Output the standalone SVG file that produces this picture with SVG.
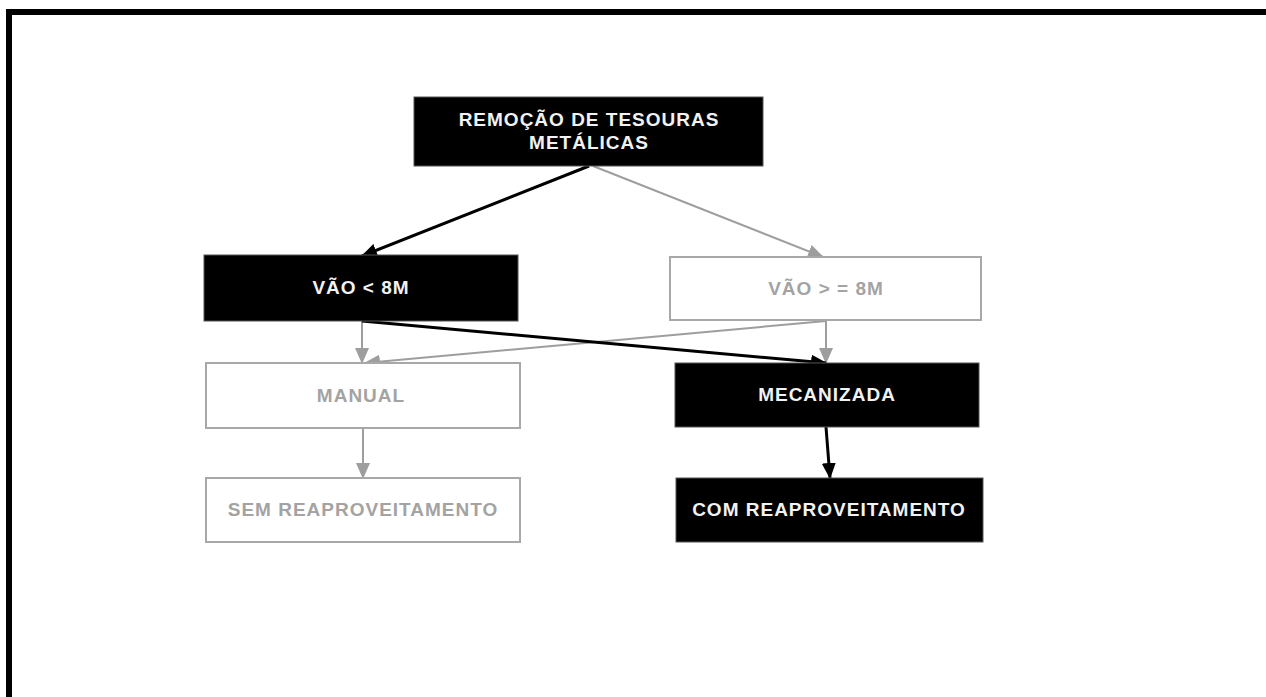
<svg xmlns="http://www.w3.org/2000/svg" width="1266" height="697" viewBox="0 0 1266 697">
<style>
.blk{fill:#000;stroke:#555;stroke-width:1}
.wht{fill:#fff;stroke:#a8a8a8;stroke-width:2}
.t{font-family:"Liberation Sans",Arial,sans-serif;font-weight:bold;font-size:19px;letter-spacing:1px;text-anchor:middle}
.tw{fill:#f2f2f2}
.tg{fill:#a3a3a3}
.cb{stroke:#000;stroke-width:3;fill:none}
.cg{stroke:#9e9e9e;stroke-width:2;fill:none}
</style>
<defs>
<marker id="ab" markerUnits="userSpaceOnUse" markerWidth="16" markerHeight="14" refX="15" refY="7" orient="auto"><path d="M0,0 L16,7 L0,14 z" fill="#000"/></marker>
<marker id="ag" markerUnits="userSpaceOnUse" markerWidth="16" markerHeight="14" refX="15" refY="7" orient="auto"><path d="M0,0 L16,7 L0,14 z" fill="#9e9e9e"/></marker>
</defs>
<rect width="1266" height="697" fill="#fff"/>
<path d="M9,697 V12 H1266" fill="none" stroke="#000" stroke-width="6"/>
<g id="connectors">
<line class="cg" x1="593" y1="166" x2="823" y2="257" marker-end="url(#ag)"/>
<line class="cg" x1="362" y1="321" x2="362" y2="363" marker-end="url(#ag)"/>
<line class="cg" x1="826" y1="321" x2="826" y2="363" marker-end="url(#ag)"/>
<line class="cg" x1="826" y1="321" x2="365" y2="363" marker-end="url(#ag)"/>
<line class="cg" x1="363" y1="428" x2="363" y2="478" marker-end="url(#ag)"/>
<line class="cb" x1="589" y1="166" x2="362" y2="256" marker-end="url(#ab)"/>
<line class="cb" x1="362" y1="321" x2="826" y2="363" marker-end="url(#ab)"/>
<line class="cb" x1="826" y1="427" x2="830" y2="478" marker-end="url(#ab)"/>
</g>
<g id="n-remocao">
<rect class="blk" x="414" y="97" width="349" height="69"/>
<text class="t tw" x="589" y="126">REMOÇÃO DE TESOURAS</text>
<text class="t tw" x="589" y="149">METÁLICAS</text>
</g>
<g id="n-vao-menor">
<rect class="blk" x="204" y="255" width="314" height="66"/>
<text class="t tw" x="361" y="294">VÃO &lt; 8M</text>
</g>
<g id="n-vao-maior">
<rect class="wht" x="670" y="257" width="311" height="63"/>
<text class="t tg" x="826" y="295">VÃO &gt; = 8M</text>
</g>
<g id="n-manual">
<rect class="wht" x="206" y="363" width="314" height="65"/>
<text class="t tg" x="361" y="402">MANUAL</text>
</g>
<g id="n-mecanizada">
<rect class="blk" x="675" y="363" width="304" height="64"/>
<text class="t tw" x="827" y="401">MECANIZADA</text>
</g>
<g id="n-sem">
<rect class="wht" x="206" y="478" width="314" height="64"/>
<text class="t tg" x="363" y="516">SEM REAPROVEITAMENTO</text>
</g>
<g id="n-com">
<rect class="blk" x="676" y="478" width="307" height="64"/>
<text class="t tw" x="829" y="516">COM REAPROVEITAMENTO</text>
</g>
</svg>
